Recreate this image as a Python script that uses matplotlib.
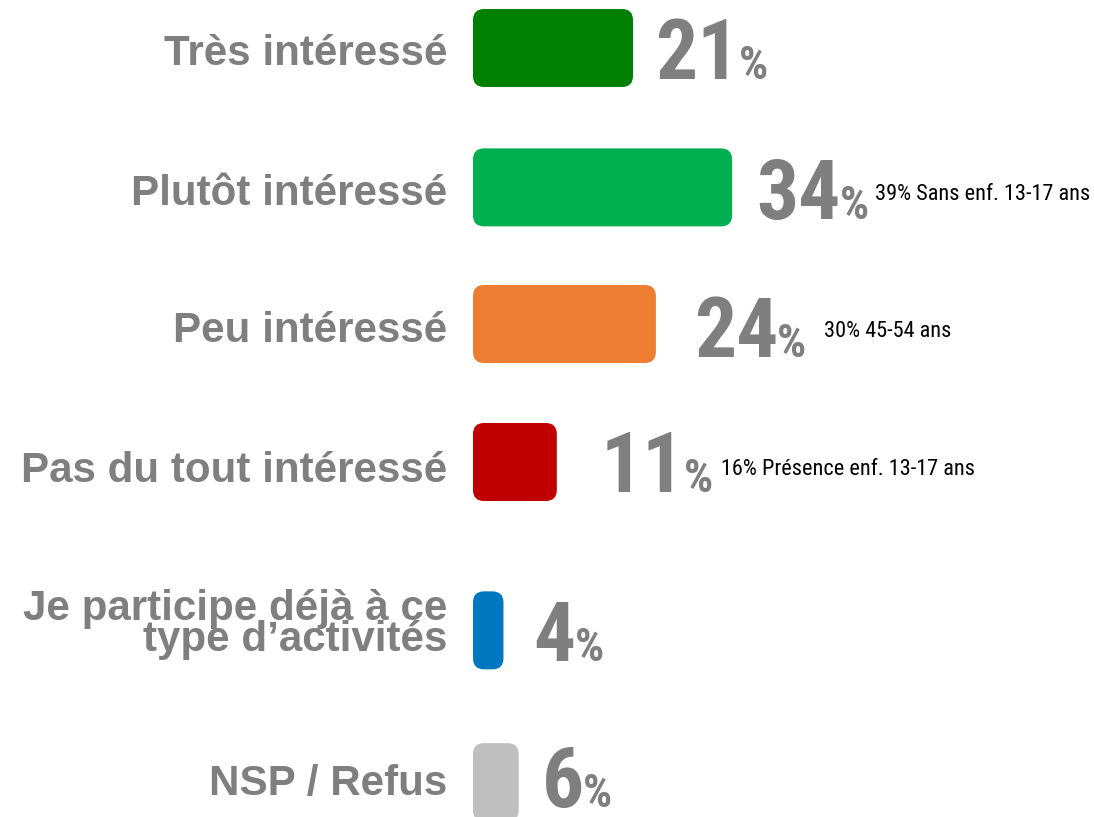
import os
import matplotlib
matplotlib.use("Agg")
import matplotlib.pyplot as plt
from matplotlib import font_manager
from matplotlib.font_manager import FontProperties
from matplotlib.patches import FancyBboxPatch
from matplotlib.transforms import offset_copy

# ---- data -----------------------------------------------------------------
categories = [
    "Très intéressé",
    "Plutôt intéressé",
    "Peu intéressé",
    "Pas du tout intéressé",
    "Je participe déjà à ce\ntype d\u2019activités",
    "NSP / Refus",
]
values = [21, 34, 24, 11, 4, 6]
notes = [
    "",
    "39% Sans enf. 13-17 ans",
    "30% 45-54 ans",
    "16% Présence enf. 13-17 ans",
    "",
    "",
]

# ---- fonts ----------------------------------------------------------------
_files = {}
for _f in font_manager.fontManager.ttflist:
    _files.setdefault(os.path.splitext(os.path.basename(_f.fname))[0].lower(), _f.fname)


def narrow_font(candidates, fallback_weight):
    for name in candidates:
        path = _files.get(name.lower())
        if path:
            return FontProperties(fname=path)
    return FontProperties(family="DejaVu Sans", stretch="condensed",
                          weight=fallback_weight)


num_font = narrow_font([
    "NotoSans-ExtraCondensedSemiBold", "NotoSans-ExtraCondensedBold",
    "RobotoCondensed-Bold", "LiberationSansNarrow-Bold",
    "NotoSans-CondensedBold", "DejaVuSansCondensed-Bold", "OpenSans-CondBold",
], "bold")
note_font = narrow_font([
    "NotoSans-ExtraCondensed", "RobotoCondensed-Regular",
    "LiberationSansNarrow-Regular", "NotoSans-Condensed",
    "DejaVuSansCondensed", "OpenSans-CondLight",
], "normal")

# ---- styling / layout -----------------------------------------------------
bar_colors = ["#008000", "#00B050", "#ED7D31", "#C00000", "#0078C1", "#BFBFBF"]
GREY = "#7F7F7F"

W_PX, H_PX = 1094, 817
DPI = 100
PX_PER_PCT = 7.62          # horizontal scale (pixels per percentage point)
ZERO_PX = 473              # where the bars start
ROW_PX = 138               # vertical pitch of one row slot
TOP_PX = 48                # centre of the first row
row_pos = [0, 1.01, 2, 3, 4.22, 5.32]
BAR_H = 78 / ROW_PX
RADIUS_PX = 11

label_dy = [17, 18, 18, 20, -10, 13]      # first-line baseline below row centre (px)
LINE_PX = 31                              # baseline spacing for wrapped labels
value_gap = [22, 24, 38, 44, 30, 23]      # gap between bar end and the value (px)
num_dy = [31, 32, 33, 30, 31, 25]         # value baseline below row centre (px)
note_x = [None, 52.8, 46.1, 32.5, None, None]
NOTE_BASE = 13

fig = plt.figure(figsize=(W_PX / DPI, H_PX / DPI), dpi=DPI)
ax = fig.add_axes([0, 0, 1, 1])
ax.set_xlim(-ZERO_PX / PX_PER_PCT, (W_PX - ZERO_PX) / PX_PER_PCT)
ax.set_ylim((H_PX - TOP_PX) / ROW_PX, -TOP_PX / ROW_PX)
ax.axis("off")

# Bars: draw with barh, then swap each rectangle for a rounded box of the same extent
bars = ax.barh(row_pos, values, height=BAR_H, color=bar_colors)
aspect = PX_PER_PCT / ROW_PX
radius = RADIUS_PX / PX_PER_PCT
for rect in bars:
    rounded = FancyBboxPatch(
        (rect.get_x(), rect.get_y()), rect.get_width(), rect.get_height(),
        boxstyle=f"round,pad=0,rounding_size={radius}",
        mutation_aspect=aspect,
        facecolor=rect.get_facecolor(), edgecolor="none",
    )
    ax.add_patch(rounded)
    rect.set_visible(False)

for i, (cat, val, y) in enumerate(zip(categories, values, row_pos)):
    # category label, right-aligned left of the bars
    for k, line in enumerate(cat.split("\n")):
        tr = offset_copy(ax.transData, fig=fig, x=-26,
                         y=-(label_dy[i] + k * LINE_PX), units="dots")
        ax.text(0, y, line, transform=tr, ha="right", va="baseline",
                fontsize=30.3, fontweight="bold", color=GREY,
                family=["Liberation Sans", "DejaVu Sans"])

    # value, followed by a small percent sign
    tr = offset_copy(ax.transData, fig=fig, x=value_gap[i], y=-num_dy[i], units="dots")
    num = ax.text(val, y, f"{val}", transform=tr, ha="left", va="baseline",
                  fontproperties=num_font, fontsize=60, color=GREY)
    ax.annotate("%", xy=(1, y), xycoords=(num, "data"),
                xytext=(-1, -num_dy[i]), textcoords="offset pixels",
                ha="left", va="baseline", fontproperties=num_font,
                fontsize=33, color=GREY)

    # sub-group note
    if notes[i]:
        tr = offset_copy(ax.transData, fig=fig, x=0, y=-NOTE_BASE, units="dots")
        ax.text(note_x[i], y, notes[i], transform=tr, ha="left", va="baseline",
                fontproperties=note_font, fontsize=16, color="black")

fig.savefig("out.png", dpi=DPI)
